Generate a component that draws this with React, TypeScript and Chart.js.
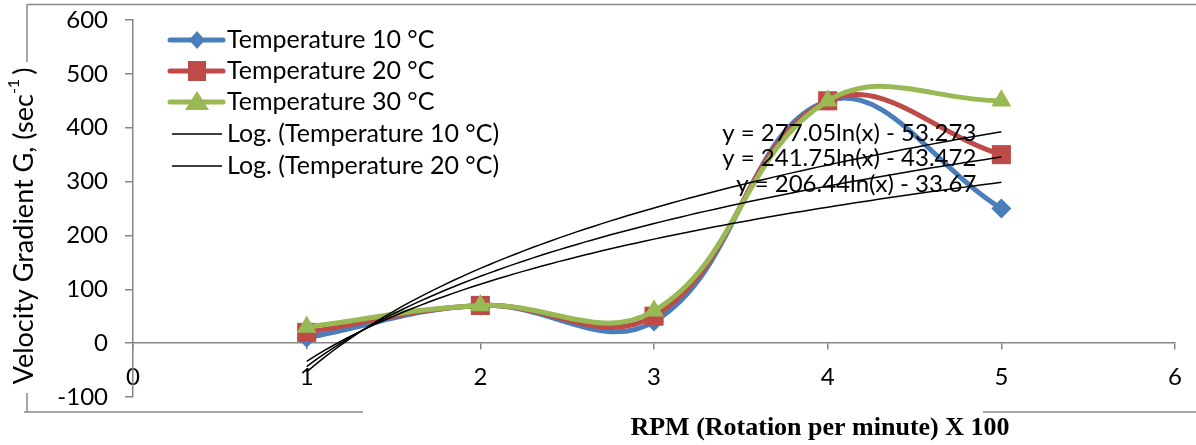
import React, { useEffect, useRef } from "react";
import { Chart, registerables } from "chart.js";

Chart.register(...registerables);

// ---- data ----
const rpm = [1, 2, 3, 4, 5];
const temp10 = [10, 70, 40, 450, 250];
const temp20 = [20, 70, 50, 450, 350];
const temp30 = [30, 70, 60, 450, 450];
const seriesLabels = ["Temperature 10 °C", "Temperature 20 °C", "Temperature 30 °C"];
const seriesColors = ["#4A7EBB", "#BE4B48", "#98B954"];
const seriesMarkers = ["rectRot", "rect", "triangle"];
const trendLabels = ["Log. (Temperature 10 °C)", "Log. (Temperature 20 °C)"];
// logarithmic trend line coefficients y = a ln(x) + b  (10 °C, 20 °C, 30 °C)
const trendA = [206.44, 241.75, 277.05];
const trendB = [-33.67, -43.472, -53.273];
const equationTexts = ["y = 206.44ln(x) - 33.67", "y = 241.75ln(x) - 43.472", "y = 277.05ln(x) - 53.273"];
const xMin = 0;
const xMax = 6;
const yMin = -100;
const yMax = 600;
const xTitle = "RPM (Rotation per minute) X 100";
const yTitleMain = "Velocity Gradient G, (sec";
const yTitleSup = "-1";
const yTitleEnd = ")";

const FONT = "Lato";
const AXIS_GREY = "#868686";

function trendPoints(a: number, b: number) {
  const pts: { x: number; y: number }[] = [];
  for (let i = 0; i <= 80; i++) {
    const x = 1 + i * 0.05;
    pts.push({ x, y: a * Math.log(x) + b });
  }
  return pts;
}

function drawMarker(ctx: CanvasRenderingContext2D, kind: string, x: number, y: number, color: string) {
  ctx.save();
  ctx.fillStyle = color;
  ctx.beginPath();
  if (kind === "rectRot") {
    ctx.moveTo(x, y - 9);
    ctx.lineTo(x + 8, y);
    ctx.lineTo(x, y + 9);
    ctx.lineTo(x - 8, y);
  } else if (kind === "rect") {
    ctx.rect(x - 9, y - 10, 18, 20);
  } else {
    ctx.moveTo(x, y - 11);
    ctx.lineTo(x + 12, y + 8);
    ctx.lineTo(x - 12, y + 8);
  }
  ctx.closePath();
  ctx.fill();
  ctx.restore();
}

const overlayPlugin = {
  id: "overlay",
  afterDraw(chart: any) {
    const ctx: CanvasRenderingContext2D = chart.ctx;
    const xs = chart.scales.x;
    const ys = chart.scales.y;
    const area = chart.chartArea;
    ctx.save();

    // chart border fragments
    ctx.strokeStyle = "#8a8a8a";
    ctx.lineWidth = 1.5;
    ctx.beginPath();
    ctx.moveTo(27, 4.5);
    ctx.lineTo(1196, 4.5);
    ctx.moveTo(27, 4.5);
    ctx.lineTo(27, 62);
    ctx.moveTo(27, 393);
    ctx.lineTo(27, 412);
    ctx.moveTo(24, 412);
    ctx.lineTo(363, 412);
    ctx.moveTo(983, 412);
    ctx.lineTo(1196, 412);
    ctx.stroke();

    // equations
    ctx.fillStyle = "#000";
    ctx.font = `24px ${FONT}`;
    ctx.textAlign = "right";
    ctx.textBaseline = "middle";
    const xEnd = xs.getPixelForValue(5);
    for (let i = 0; i < equationTexts.length; i++) {
      const yv = trendA[i] * Math.log(5) + trendB[i];
      ctx.fillText(equationTexts[i], xEnd - 25, ys.getPixelForValue(yv) + 1.5);
    }

    // legend
    const lx = area.left + 35;
    const rowY = [40, 71, 102, 134, 166];
    ctx.textAlign = "left";
    ctx.font = `25px ${FONT}`;
    for (let i = 0; i < 3; i++) {
      const y = rowY[i];
      ctx.strokeStyle = seriesColors[i];
      ctx.lineWidth = 5;
      ctx.lineCap = "round";
      ctx.beginPath();
      ctx.moveTo(lx + 2, y);
      ctx.lineTo(lx + 55, y);
      ctx.stroke();
      drawMarker(ctx, seriesMarkers[i], lx + 29, y, seriesColors[i]);
      ctx.fillStyle = "#000";
      ctx.fillText(seriesLabels[i], lx + 59, y);
    }
    ctx.lineCap = "butt";
    for (let i = 0; i < trendLabels.length; i++) {
      const y = rowY[3 + i];
      ctx.strokeStyle = "#000";
      ctx.lineWidth = 1.5;
      ctx.beginPath();
      ctx.moveTo(lx + 4, y);
      ctx.lineTo(lx + 54, y);
      ctx.stroke();
      ctx.fillStyle = "#000";
      ctx.fillText(trendLabels[i], lx + 59, y);
    }

    // x title
    ctx.font = `bold 26px "Liberation Serif"`;
    ctx.textAlign = "center";
    ctx.fillText(xTitle, 820, 428);

    // y title (rotated, with superscript)
    ctx.translate(24, 226);
    ctx.rotate(-Math.PI / 2);
    ctx.font = `27px ${FONT}`;
    const wMain = ctx.measureText(yTitleMain).width;
    ctx.font = `16px ${FONT}`;
    const wSup = ctx.measureText(yTitleSup).width;
    ctx.font = `27px ${FONT}`;
    const wEnd = ctx.measureText(yTitleEnd).width;
    const total = wMain + wSup + wEnd + 4;
    let cx = -total / 2;
    ctx.textAlign = "left";
    ctx.fillText(yTitleMain, cx, 0);
    cx += wMain;
    ctx.font = `16px ${FONT}`;
    ctx.fillText(yTitleSup, cx, -10);
    cx += wSup + 4;
    ctx.font = `27px ${FONT}`;
    ctx.fillText(yTitleEnd, cx, 0);
    ctx.restore();
  },
};

export default function App() {
  const ref = useRef<HTMLCanvasElement | null>(null);

  useEffect(() => {
    if (!ref.current) return;
    Chart.defaults.font.family = FONT;
    const series = [temp10, temp20, temp30];
    const seriesSets = series.map((vals, i) => ({
      label: seriesLabels[i],
      data: rpm.map((x, j) => ({ x, y: vals[j] })),
      borderColor: seriesColors[i],
      backgroundColor: seriesColors[i],
      borderWidth: 5,
      pointStyle: seriesMarkers[i],
      pointRadius: i === 0 ? 10 : i === 1 ? 13.5 : 11.5,
      pointBorderWidth: 0,
      tension: 0.4,
      order: 3 - i,
    }));
    const trendSets = trendA.map((a, i) => ({
      label: "Log. " + i,
      data: trendPoints(a, trendB[i]),
      borderColor: "#000",
      borderWidth: 1.5,
      pointRadius: 0,
      tension: 0,
      order: 0,
    }));
    const chart = new Chart(ref.current, {
      type: "line",
      data: { datasets: [...seriesSets, ...trendSets] as any },
      plugins: [overlayPlugin],
      options: {
        responsive: false,
        animation: false,
        layout: { padding: { left: 0, right: 20, top: 20, bottom: 48 } },
        plugins: { legend: { display: false }, tooltip: { enabled: false } },
        scales: {
          x: {
            type: "linear",
            min: xMin,
            max: xMax,
            position: { y: 0 } as any,
            ticks: { stepSize: 1, color: "#000", font: { size: 24 }, padding: 14 },
            grid: { drawOnChartArea: false, drawTicks: true, tickLength: 6, color: AXIS_GREY, lineWidth: 1.5 },
            border: { color: AXIS_GREY, width: 1.5 },
            afterFit: (s: any) => {
              s.paddingTop = 0;
              s.paddingBottom = 0;
              s.height = 0;
            },
          },
          y: {
            min: yMin,
            max: yMax,
            ticks: { stepSize: 100, color: "#000", font: { size: 24 }, padding: 17 },
            grid: { drawOnChartArea: false, drawTicks: true, tickLength: 8, color: AXIS_GREY, lineWidth: 1.5 },
            border: { color: AXIS_GREY, width: 1.5 },
            afterFit: (s: any) => {
              s.width = 133;
              s.paddingTop = 0;
              s.paddingBottom = 0;
            },
          },
        },
      } as any,
    });
    return () => chart.destroy();
  }, []);

  return (
    <div style={{ position: "absolute", left: 0, top: 0, width: 1196, height: 445, background: "#fff" }}>
      <canvas ref={ref} width={1196} height={445} style={{ display: "block" }} />
    </div>
  );
}
